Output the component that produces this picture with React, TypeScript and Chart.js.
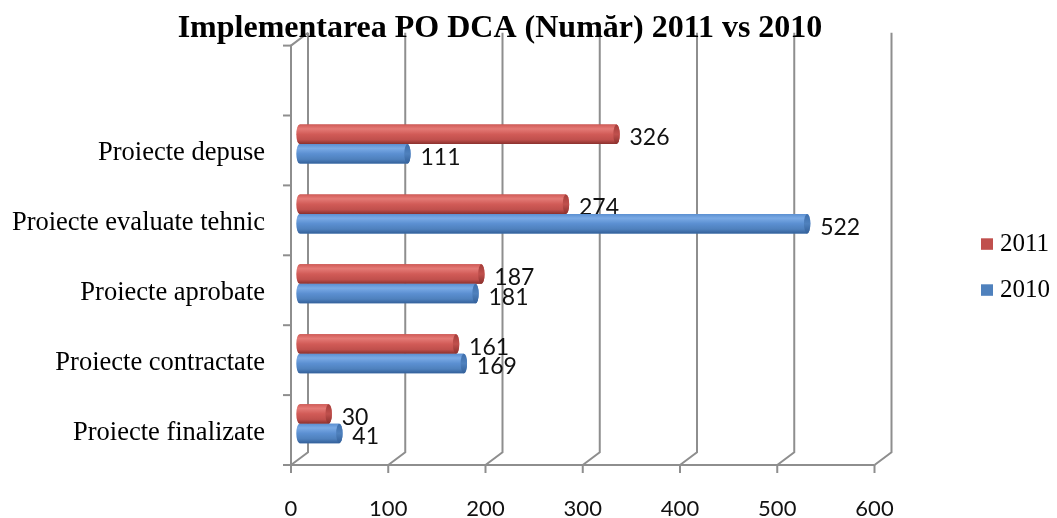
import React, { useEffect, useRef } from "react";
import { Chart, registerables } from "chart.js";

Chart.register(...registerables);

const TITLE = "Implementarea PO DCA (Număr) 2011 vs 2010";
const categories = [
  "",
  "Proiecte depuse",
  "Proiecte evaluate tehnic",
  "Proiecte aprobate",
  "Proiecte contractate",
  "Proiecte finalizate",
];
const seriesNames = ["2011", "2010"];
const values2011 = [null, 326, 274, 187, 161, 30];
const values2010 = [null, 111, 522, 181, 169, 41];
const xTickValues = [0, 100, 200, 300, 400, 500, 600];

const W = 1057;
const H = 518;
const DX = 8.5;
const DY = 6.4;
const GRID = "#8e8e8e";

const palette = [
  { base: "#C0504D", light: "#E47A76", mid: "#D15B57", dark: "#8A302D", cap: "#A43E3A" },
  { base: "#4F81BD", light: "#7AAAE5", mid: "#5B8FD1", dark: "#33609A", cap: "#3F6FAC" },
];

const serif = "'Liberation Serif', 'Times New Roman', serif";
const sans = "Lato, 'Open Sans', sans-serif";

const boxPlugin = {
  id: "box3d",
  beforeDatasetsDraw(chart: any) {
    const { ctx, chartArea, scales } = chart;
    const { top, bottom } = chartArea;
    const xs = scales.x;
    ctx.save();
    ctx.strokeStyle = GRID;
    ctx.lineWidth = 2;
    xTickValues.forEach((v) => {
      const p = xs.getPixelForValue(v);
      ctx.beginPath();
      ctx.moveTo(p + DX, top - DY);
      ctx.lineTo(p + DX, bottom - DY);
      ctx.lineTo(p - DX, bottom + DY);
      ctx.stroke();
    });
    const x0 = xs.getPixelForValue(0) - DX;
    const xEnd = xs.getPixelForValue(xTickValues[xTickValues.length - 1]) - DX;
    ctx.beginPath();
    ctx.moveTo(x0 - 8, bottom + DY);
    ctx.lineTo(xEnd, bottom + DY);
    ctx.stroke();
    xTickValues.forEach((v) => {
      const p = xs.getPixelForValue(v) - DX;
      ctx.beginPath();
      ctx.moveTo(p, bottom + DY);
      ctx.lineTo(p, bottom + DY + 8);
      ctx.stroke();
    });
    ctx.beginPath();
    ctx.moveTo(x0 + 2 * DX, top - DY);
    ctx.lineTo(x0, top + DY);
    ctx.lineTo(x0, bottom + DY);
    ctx.stroke();
    const n = categories.length;
    const slot = (bottom - top) / n;
    for (let k = 0; k <= n; k++) {
      const y = top + k * slot + DY;
      ctx.beginPath();
      ctx.moveTo(x0 - 8, y);
      ctx.lineTo(x0, y);
      ctx.stroke();
    }
    ctx.restore();
  },
  afterDatasetsDraw(chart: any) {
    const { ctx } = chart;
    ctx.save();
    chart.data.datasets.forEach((ds: any, di: number) => {
      const meta = chart.getDatasetMeta(di);
      const col = palette[di];
      meta.data.forEach((el: any, i: number) => {
        const v = ds.data[i];
        if (v == null) return;
        const { x: ex, y: ey, base, height } = el.getProps(["x", "y", "base", "height"], true);
        const h = height;
        const t = ey - h / 2;
        const rx = 3.2;
        const g = ctx.createLinearGradient(0, t, 0, t + h);
        g.addColorStop(0, col.mid);
        g.addColorStop(0.22, col.light);
        g.addColorStop(0.5, col.mid);
        g.addColorStop(0.78, col.base);
        g.addColorStop(1, col.dark);
        ctx.beginPath();
        ctx.moveTo(base, t);
        ctx.lineTo(ex, t);
        ctx.ellipse(ex, ey, rx, h / 2, 0, -Math.PI / 2, Math.PI / 2);
        ctx.lineTo(base, t + h);
        ctx.ellipse(base, ey, rx, h / 2, 0, Math.PI / 2, (3 * Math.PI) / 2);
        ctx.closePath();
        ctx.fillStyle = g;
        ctx.fill();
        const gc = ctx.createLinearGradient(0, t, 0, t + h);
        gc.addColorStop(0, col.cap);
        gc.addColorStop(0.5, col.base);
        gc.addColorStop(1, col.dark);
        ctx.beginPath();
        ctx.ellipse(ex, ey, rx, h / 2, 0, 0, Math.PI * 2);
        ctx.fillStyle = gc;
        ctx.fill();
        ctx.fillStyle = "#111";
        ctx.font = `23px ${sans}`;
        ctx.textAlign = "left";
        ctx.textBaseline = "middle";
        ctx.fillText(String(v), ex + 13, ey + 3.5);
      });
    });
    ctx.restore();
  },
  afterDraw(chart: any) {
    const { ctx } = chart;
    ctx.save();
    ctx.fillStyle = "#000";
    ctx.font = `bold 32px ${serif}`;
    ctx.textAlign = "center";
    ctx.textBaseline = "alphabetic";
    ctx.fillText(TITLE, 500, 37);
    ctx.font = `25px ${serif}`;
    ctx.textAlign = "left";
    chart.data.datasets.forEach((ds: any, i: number) => {
      const y = 238.3 + 46 * i;
      ctx.fillStyle = palette[i].base;
      ctx.fillRect(981, y, 12, 11.5);
      ctx.fillStyle = "#000";
      ctx.fillText(ds.label, 1000, 250.7 + 46 * i);
    });
    ctx.restore();
  },
};

export default function App() {
  const ref = useRef<HTMLCanvasElement | null>(null);
  useEffect(() => {
    document.body.style.margin = "0";
    const canvas = ref.current;
    if (!canvas) return;
    const chart = new Chart(canvas, {
      type: "bar",
      data: {
        labels: categories,
        datasets: [
          { label: seriesNames[0], data: values2011, backgroundColor: palette[0].base, borderWidth: 0 },
          { label: seriesNames[1], data: values2010, backgroundColor: palette[1].base, borderWidth: 0 },
        ],
      },
      options: {
        indexAxis: "y",
        responsive: false,
        animation: false,
        devicePixelRatio: 1,
        categoryPercentage: 0.558,
        barPercentage: 1,
        layout: { padding: { top: 39.2, right: W - 883, bottom: 0, left: 0 } },
        plugins: {
          legend: { display: false },
          title: { display: false },
          tooltip: { enabled: false },
        },
        scales: {
          x: {
            min: 0,
            max: 600,
            afterBuildTicks: (scale: any) => {
              scale.ticks = xTickValues.map((v) => ({ value: v }));
            },
            afterFit: (scale: any) => {
              scale.height = 59.4;
              scale.paddingLeft = 0;
              scale.paddingRight = 0;
            },
            grid: { display: false, drawTicks: false },
            border: { display: false },
            ticks: {
              padding: 37,
              labelOffset: -8.5,
              color: "#111",
              font: { family: sans, size: 22 },
              maxRotation: 0,
            },
          },
          y: {
            afterFit: (scale: any) => {
              scale.width = 299.5;
              scale.paddingTop = 0;
              scale.paddingBottom = 0;
            },
            grid: { display: false, drawTicks: false },
            border: { display: false },
            ticks: {
              padding: 34.5,
              labelOffset: 9,
              color: "#000",
              font: { family: serif, size: 26.5 },
            },
          },
        },
      },
      plugins: [boxPlugin],
    } as any);
    return () => chart.destroy();
  }, []);
  return (
    <div style={{ width: W, height: H, background: "#fff" }}>
      <canvas ref={ref} width={W} height={H} style={{ display: "block" }} />
    </div>
  );
}
